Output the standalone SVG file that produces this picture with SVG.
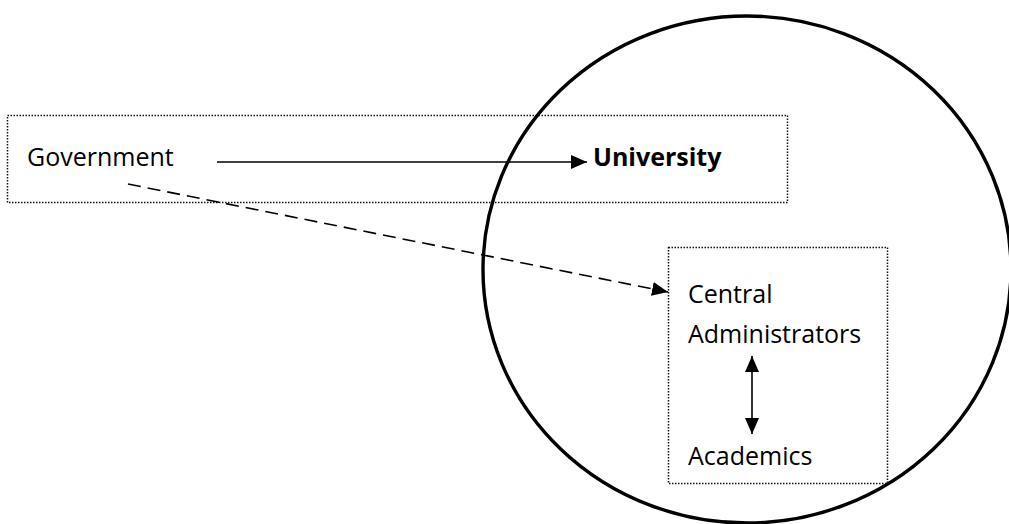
<svg xmlns="http://www.w3.org/2000/svg" width="1009" height="524" viewBox="0 0 1009 524">
  <style>
    .label { font-family: "Open Sans", "Liberation Sans", sans-serif; font-size: 25px; fill: #000; }
    .bold { font-weight: bold; }
    .frame { fill: none; stroke: #111; stroke-width: 1.5; stroke-dasharray: 1.5 1.5; }
    .line { fill: none; stroke: #000; stroke-width: 1.6; }
    .dashed { stroke-dasharray: 13 7; }
  </style>
  <defs>
    <marker id="headLg" viewBox="0 0 16 14" refX="16" refY="7" markerWidth="16" markerHeight="14" markerUnits="userSpaceOnUse" orient="auto-start-reverse">
      <path d="M0,0 L16,7 L0,14 Z" fill="#000"/>
    </marker>
  </defs>

  <rect width="1009" height="524" fill="#fff"/>

  <!-- outer frame around the government / university row -->
  <g id="outer-frame">
    <rect class="frame" x="7.5" y="115.5" width="780" height="87"/>
  </g>

  <!-- university boundary -->
  <g id="university-circle">
    <ellipse cx="747" cy="269.5" rx="264" ry="253.5" fill="none" stroke="#000" stroke-width="3.4"/>
  </g>

  <g id="government">
    <text class="label" x="27" y="166">Government</text>
  </g>

  <g id="university">
    <text class="label bold" x="593" y="166">University</text>
  </g>

  <g id="inner-group">
    <rect class="frame" x="668.5" y="247.5" width="219" height="236"/>
    <text class="label" x="688" y="303">Central</text>
    <text class="label" x="688" y="343">Administrators</text>
    <text class="label" x="688" y="465">Academics</text>
  </g>

  <g id="connectors">
    <line class="line" x1="217" y1="162" x2="587" y2="162" marker-end="url(#headLg)"/>
    <line class="line dashed" x1="128" y1="184" x2="668" y2="292" marker-end="url(#headLg)"/>
    <line class="line" x1="752" y1="356" x2="752" y2="434" marker-start="url(#headLg)" marker-end="url(#headLg)"/>
  </g>
</svg>
